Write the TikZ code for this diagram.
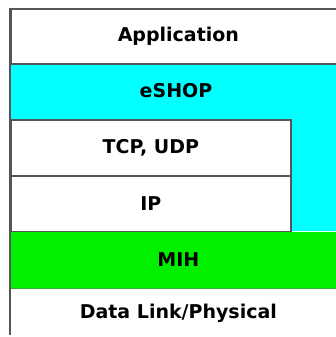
\documentclass[tikz,border=0pt]{standalone}
\usepackage{fontspec}
\setmainfont{DejaVu Sans}
\definecolor{edge}{HTML}{555555}
\definecolor{shopcyan}{HTML}{00FFFF}
\definecolor{mihgreen}{HTML}{00F000}
\definecolor{mihedge}{HTML}{2FB02F}
\begin{document}
\begin{tikzpicture}[x=1pt,y=1pt,
  label/.style={font=\fontsize{19}{22}\selectfont\bfseries, text=black},
  layer/.style={rectangle, anchor=north west, inner sep=0pt, line width=1.7pt},
]
\useasboundingbox (0,0) rectangle (336,-337);
\fill[white] (0,0) rectangle (336,-337);
% eSHOP band with its right-hand column down to MIH
\fill[shopcyan] (10,-63) -- (345,-63) -- (345,-231) -- (290,-231) -- (290,-119) -- (10,-119) -- cycle;
% Application
\node[layer, draw=edge, fill=white, minimum width=335pt, minimum height=55pt, label] (app) at (10,-8) {Application};
% eSHOP text
\node[label] (eshop) at (176,-91) {eSHOP};
% TCP, UDP and IP
\node[layer, draw=edge, fill=white, minimum width=280pt, minimum height=56pt, label] (tcp) at (10,-119) {TCP, UDP};
\node[layer, draw=edge, fill=white, minimum width=280pt, minimum height=56pt, label] (ip) at (10,-175) {IP};
% MIH
\node[layer, fill=mihgreen, minimum width=335pt, minimum height=56pt, label] (mih) at (10,-231) {MIH};
\draw[mihedge, line width=1.4pt] (mih.south west) -- (mih.south east);
% Data Link/Physical
\node[layer, minimum width=335pt, minimum height=50pt, label] (dl) at (10,-287) {Data Link/Physical};
% left border of the whole stack
\draw[edge, line width=1.7pt] (app.north west) -- (10,-335);
\end{tikzpicture}
\end{document}
